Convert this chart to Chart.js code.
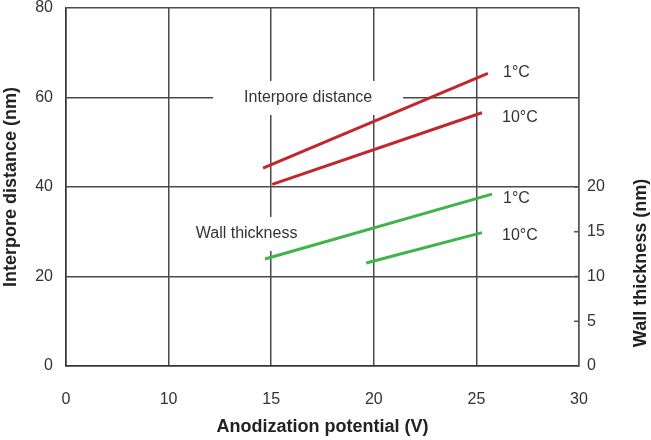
<!DOCTYPE html>
<html>
<head>
<meta charset="utf-8">
<script src="https://cdn.jsdelivr.net/npm/chart.js@4.4.1/dist/chart.umd.min.js"></script>
<style>
  html, body { margin: 0; padding: 0; background: #fff; }
  #wrap { width: 651px; height: 440px; }
</style>
</head>
<body>
<div id="wrap"><canvas id="anodChart" width="651" height="440"></canvas></div>
<script>
// line ends, anodization potential (V) and size (nm)
const red1V = [14.6, 25.56];
const red1Nm = [44.2, 65.4];
const red10V = [15.05, 25.27];
const red10Nm = [40.6, 56.6];
const green1V = [14.7, 25.76];
const green1Wall = [11.95, 19.2];
const green10V = [19.63, 25.27];
const green10Wall = [11.5, 14.9];

// x axis has a break: the first tick sits at 5 but reads 0
const xTickValues = [5, 10, 15, 20, 25, 30];
const xTickLabels = ['0', '10', '15', '20', '25', '30'];
const wallTicks = [0, 5, 10, 15, 20];

const noteTexts = ['Interpore distance', 'Wall thickness', '1°C', '10°C', '1°C', '10°C'];
const noteV = [16.8, 13.8, 26.3, 26.25, 26.3, 26.25];
const noteNm = [59.9, 29.5, 65.5, 55.6, 37.3, 29.2];

const FONT = "'Liberation Sans', Arial, sans-serif";
const RED = '#c1272d';
const GREEN = '#3db54a';
const GRID = '#4a4a4a';

function pts(xs, ys) {
    return xs.map((v, i) => ({ x: v, y: ys[i] }));
}

// keep the chart area where the figure has it, labels may overflow
function fixY(width) {
    return s => {
        s.width = width;
        s.paddingTop = 0;
        s.paddingBottom = 0;
    };
}

const notesPlugin = {
    id: 'notes',
    beforeDatasetsDraw(chart) {
        const ctx = chart.ctx;
        const x = chart.scales.x, y = chart.scales.y;
        ctx.save();
        ctx.fillStyle = '#fff';
        // white patches that cut the grid behind the two series names
        [[0, 190], [1, 140]].forEach(([i, w]) => {
            ctx.fillRect(x.getPixelForValue(noteV[i]) - w / 2, y.getPixelForValue(noteNm[i]) - 17, w, 34);
        });
        ctx.restore();
    },
    afterDatasetsDraw(chart) {
        const ctx = chart.ctx;
        const x = chart.scales.x, y = chart.scales.y, y2 = chart.scales.y2;
        ctx.save();
        ctx.fillStyle = '#333';
        ctx.font = '16px ' + FONT;
        ctx.textBaseline = 'middle';
        noteTexts.forEach((t, i) => {
            ctx.textAlign = i < 2 ? 'center' : 'left';
            ctx.fillText(t, x.getPixelForValue(noteV[i]), y.getPixelForValue(noteNm[i]));
        });

        // inward tick marks on the wall thickness axis
        ctx.strokeStyle = '#555';
        ctx.lineWidth = 1.5;
        wallTicks.slice(1).forEach(v => {
            const py = y2.getPixelForValue(v);
            ctx.beginPath();
            ctx.moveTo(y2.left - 5, py);
            ctx.lineTo(y2.left, py);
            ctx.stroke();
        });

        // right axis title reads bottom to top
        ctx.translate(641, 263);
        ctx.rotate(-Math.PI / 2);
        ctx.textAlign = 'center';
        ctx.fillStyle = '#222';
        ctx.font = 'bold 18px ' + FONT;
        ctx.fillText('Wall thickness (nm)', 0, 0);
        ctx.restore();
    }
};

const ctx = document.getElementById('anodChart').getContext('2d');
new Chart(ctx, {
    type: 'line',
    data: {
        datasets: [
            { label: 'Interpore 1°C', data: pts(red1V, red1Nm), borderColor: RED, yAxisID: 'y' },
            { label: 'Interpore 10°C', data: pts(red10V, red10Nm), borderColor: RED, yAxisID: 'y' },
            { label: 'Wall 1°C', data: pts(green1V, green1Wall), borderColor: GREEN, yAxisID: 'y2' },
            { label: 'Wall 10°C', data: pts(green10V, green10Wall), borderColor: GREEN, yAxisID: 'y2' }
        ]
    },
    options: {
        responsive: false,
        animation: false,
        layout: { padding: { top: 8, left: 0, right: 0, bottom: 0 } },
        elements: {
            line: { borderWidth: 3, tension: 0 },
            point: { radius: 0 }
        },
        plugins: {
            legend: { display: false },
            tooltip: { enabled: false }
        },
        scales: {
            x: {
                type: 'linear',
                min: 5,
                max: 30,
                afterBuildTicks: s => { s.ticks = xTickValues.map(v => ({ value: v })); },
                afterFit: s => { s.height = 74; s.paddingLeft = 0; s.paddingRight = 0; },
                ticks: {
                    padding: 24,
                    color: '#333',
                    font: { family: FONT, size: 16 },
                    maxRotation: 0,
                    callback: v => xTickLabels[xTickValues.indexOf(v)]
                },
                grid: { color: GRID, lineWidth: 1.5, drawTicks: false },
                border: { color: '#333', width: 1.5 },
                title: {
                    display: true,
                    text: 'Anodization potential (V)',
                    color: '#222',
                    font: { family: FONT, size: 18, weight: 'bold' },
                    padding: { top: 0, bottom: 2 }
                }
            },
            y: {
                min: 0,
                max: 80,
                afterFit: fixY(66),
                ticks: {
                    stepSize: 20,
                    padding: 13,
                    color: '#333',
                    font: { family: FONT, size: 16 }
                },
                grid: { color: GRID, lineWidth: 1.5, drawTicks: false },
                border: { color: '#333', width: 1.5 },
                title: {
                    display: true,
                    text: 'Interpore distance (nm)',
                    color: '#222',
                    font: { family: FONT, size: 18, weight: 'bold' },
                    padding: 0
                }
            },
            y2: {
                position: 'right',
                min: 0,
                max: 40,
                afterBuildTicks: s => { s.ticks = wallTicks.map(v => ({ value: v })); },
                afterFit: fixY(72),
                ticks: {
                    padding: 8,
                    color: '#333',
                    font: { family: FONT, size: 16 }
                },
                grid: { drawOnChartArea: false, drawTicks: false },
                border: { color: '#555', width: 1.5 }
            }
        }
    },
    plugins: [notesPlugin]
});
</script>
</body>
</html>
